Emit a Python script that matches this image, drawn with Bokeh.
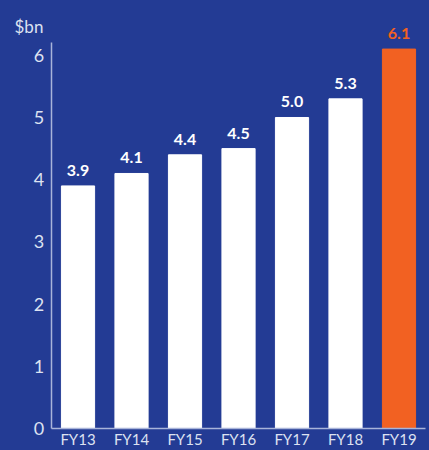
from bokeh.plotting import figure
from bokeh.models import (ColumnDataSource, Range1d, FixedTicker, LabelSet, Label,
                          LinearAxis)
from bokeh.core.properties import value
from bokeh.embed import file_html
from bokeh.resources import INLINE

years = ["FY13", "FY14", "FY15", "FY16", "FY17", "FY18", "FY19"]
values = [3.9, 4.1, 4.4, 4.5, 5.0, 5.3, 6.1]
labels = ["3.9", "4.1", "4.4", "4.5", "5.0", "5.3", "6.1"]
y_ticks = [0, 1, 2, 3, 4, 5, 6]
unit_label = "$bn"

BG = "#233B94"
WHITE = "#FFFFFF"
ORANGE = "#F26122"
AXIS = "#A9B4D9"
TEXT = "#DDE2F1"
FONT = "Lato"

idx = list(range(len(years)))
colors = [WHITE] * (len(years) - 1) + [ORANGE]
src = ColumnDataSource(dict(x=idx, top=values, color=colors, label=labels))

p = figure(x_range=Range1d(-1.449, 6.570), y_range=Range1d(-0.354, 6.881),
           width=429, height=450, output_backend="svg", toolbar_location=None,
           x_axis_location=None, y_axis_location=None,
           min_border_left=0, min_border_right=0, min_border_top=0, min_border_bottom=0)
p.styles = {"background-color": BG}
p.background_fill_alpha = 0
p.border_fill_alpha = 0
p.outline_line_color = None
p.grid.grid_line_color = None

p.vbar(x="x", top="top", width=0.62, color="color", source=src)

p.add_layout(LabelSet(x="x", y="top", text="label", source=src, text_color="color",
                      text_font=value(FONT), text_font_style="bold", text_font_size="16px",
                      text_align="center", text_baseline="bottom", y_offset=10))

p.add_layout(Label(x=-1.449, y=6.46, x_offset=14, text=unit_label, text_color=TEXT,
                   text_font=FONT, text_font_size="17px", text_baseline="alphabetic",
                   text_align="left"))

xaxis = LinearAxis(fixed_location=0, bounds=(-0.5, len(years) - 0.5),
                   ticker=FixedTicker(ticks=idx),
                   major_label_overrides={i: y for i, y in zip(idx, years)})
yaxis = LinearAxis(fixed_location=-0.5, bounds=(0, 6.2), ticker=FixedTicker(ticks=y_ticks))
p.add_layout(xaxis, "below")
p.add_layout(yaxis, "left")

for ax in (xaxis, yaxis):
    ax.axis_line_color = AXIS
    ax.axis_line_width = 1.5
    ax.major_tick_line_color = None
    ax.minor_tick_line_color = None
    ax.major_tick_out = 0
    ax.major_tick_in = 0
    ax.minor_tick_out = 0
    ax.minor_tick_in = 0
    ax.major_label_text_color = TEXT
    ax.major_label_text_font = FONT
yaxis.major_label_text_font_size = "18px"
xaxis.major_label_text_font_size = "15px"
yaxis.major_label_standoff = 7
xaxis.major_label_standoff = 2

open("out.html", "w").write(file_html(p, INLINE))
